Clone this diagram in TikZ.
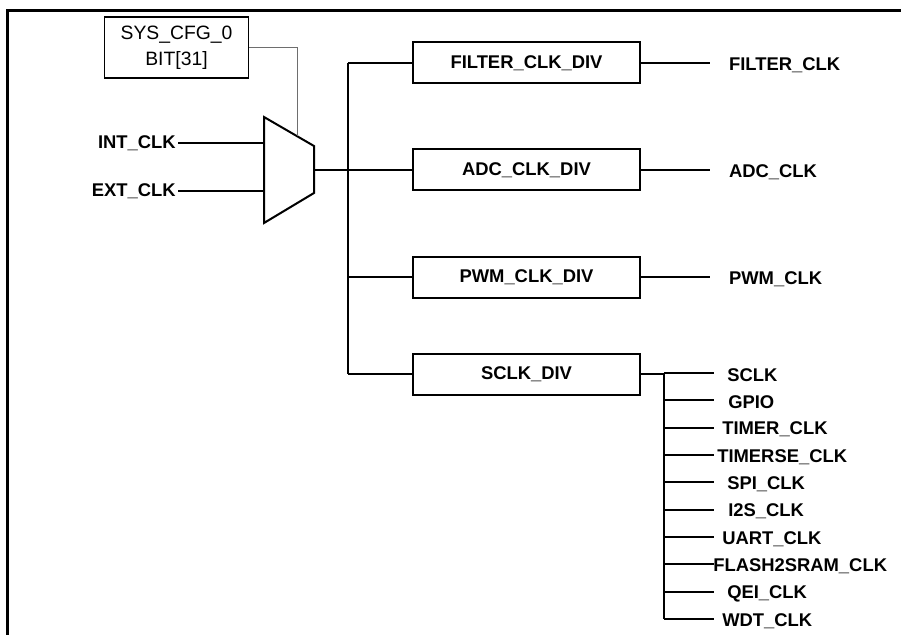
\documentclass[tikz,border=0pt]{standalone}
\usepackage{fontspec}
\setmainfont{Liberation Sans}
\usetikzlibrary{calc, positioning}
\definecolor{wireGrey}{RGB}{110,110,110}

\begin{document}
\begin{tikzpicture}[x=0.75pt, y=-0.75pt, font=\fontsize{13.8}{16}\selectfont\bfseries,
  divbox/.style={draw, line width=1.5pt, minimum width=170pt, minimum height=30.75pt, inner sep=0pt},
  wire/.style={line width=1.5pt},
  lbl/.style={inner sep=0pt}]
\useasboundingbox (0,0) rectangle (901,635);

% Frame
\draw[line width=2.25pt] (7,640) -- (7,11) -- (905,11);

% Select register
\node[draw, line width=1.2pt, minimum width=108pt, minimum height=45.75pt, align=center,
  font=\fontsize{14.5}{19.5}\selectfont] (cfg) at (176.5,47.5) {SYS\_CFG\_0\\BIT[31]};

% Mux
\coordinate (mtl) at (264,117);
\coordinate (mtr) at (314,146);
\coordinate (mbr) at (314,193);
\coordinate (mbl) at (264,223);
\coordinate (mout) at (314,170);
\coordinate (msel) at ($(mtl)!0.66!(mtr)$);
\draw[wire, line join=miter] (mtl) -- (mtr) -- (mbr) -- (mbl) -- cycle;
\draw[wireGrey, line width=0.75pt] (cfg.east) -| (msel);

% Clock inputs
\node[lbl, inner xsep=1.5pt, anchor=east] (intclk) at (178,143) {INT\_CLK};
\node[lbl, inner xsep=1.5pt, anchor=east] (extclk) at (178,191) {EXT\_CLK};
\draw[wire] (intclk.east) -- (intclk.east -| mtl);
\draw[wire] (extclk.east) -- (extclk.east -| mtl);

% Dividers
\coordinate (bus) at (348,170);
\foreach \n/\y/\t in {fdiv/63/FILTER\_CLK\_DIV, adiv/170/ADC\_CLK\_DIV, pdiv/277/PWM\_CLK\_DIV, sdiv/374/SCLK\_DIV} {
  \node[divbox] (\n) at (526.5,\y) {\t};
  \draw[wire] (bus |- \n.west) -- (\n.west);
}
\draw[wire] (bus |- fdiv.west) -- (bus |- sdiv.west);
\draw[wire] (mout) -- (bus);

% Divider outputs
\foreach \n/\t in {fdiv/FILTER\_CLK, adiv/ADC\_CLK, pdiv/PWM\_CLK} {
  \coordinate (\n-e) at ($(\n.east)+(69,0)$);
  \node[lbl, anchor=west] (\n-o) at ($(\n.east)+(88,2)$) {\t};
  \draw[wire] (\n.east) -- (\n-e);
}

% SCLK branches
\coordinate (sbus) at ($(sdiv.east)+(23,0)$);
\foreach \i/\t/\lx in {0/SCLK/727, 1/GPIO/728, 2/TIMER\_CLK/722, 3/TIMERSE\_CLK/717, 4/SPI\_CLK/727,
  5/I2S\_CLK/728, 6/UART\_CLK/722, 7/FLASH2SRAM\_CLK/713, 8/QEI\_CLK/727, 9/WDT\_CLK/722} {
  \coordinate (e\i) at (714,{373+27.33*\i});
  \node[lbl, anchor=west] (c\i) at (\lx,{375+27.33*\i}) {\t};
  \draw[wire] (sbus |- e\i) -- (e\i);
}
\draw[wire] (sdiv.east) -- (sbus);
\draw[wire] (sbus) -- (sbus |- e9);
\end{tikzpicture}
\end{document}
